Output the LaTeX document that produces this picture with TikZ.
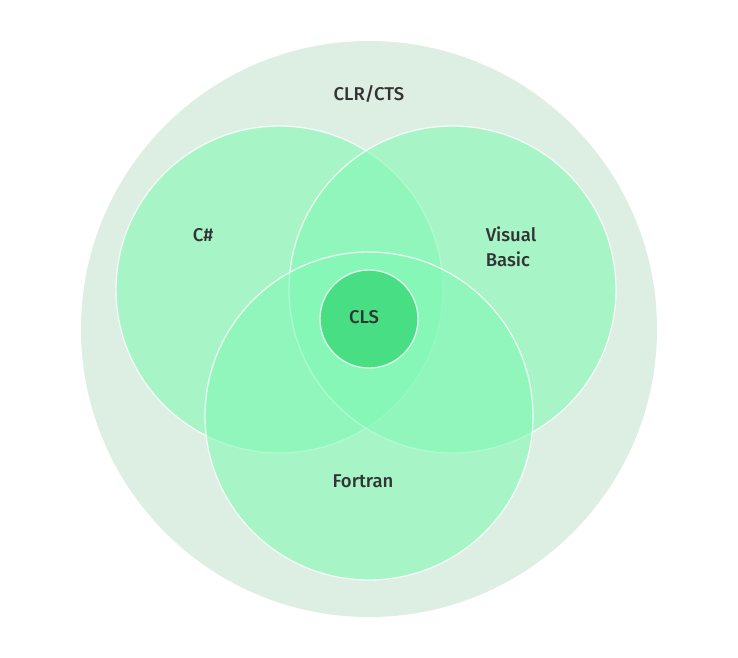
\documentclass[tikz,border=0pt]{standalone}
\usepackage{fontspec}
\setmainfont{Fira Sans}[BoldFont={Fira Sans Medium}]
\usepackage{tikz}

\definecolor{outerbg}{HTML}{DDEEE2}
\definecolor{langfill}{HTML}{80F9B4}
\definecolor{clsfill}{HTML}{47DE84}
\definecolor{labeltext}{HTML}{333333}

\tikzset{
  lang/.style={fill=langfill,fill opacity=0.58,draw=white,draw opacity=0.8,line width=1.3pt},
  lbl/.style={text=labeltext,font=\fontsize{18.5}{25}\selectfont\bfseries,align=left}
}

\begin{document}
\begin{tikzpicture}[x=1pt,y=-1pt]
  \useasboundingbox (0,0) rectangle (738,657);

  % runtime
  \fill[outerbg] (369,329) circle (288);

  % languages
  \path[lang] (279.5,289.5) circle (163.5);
  \path[lang] (452.5,289.5) circle (163.5);
  \path[lang] (369,416) circle (164);

  % common subset
  \draw[fill=clsfill,draw=white,draw opacity=0.8,line width=1.3pt] (369,319) circle (49);

  \node[lbl] (clr) at (369,94) {CLR/CTS};
  \node[lbl] (csharp) at (203,235) {C\#};
  \node[lbl] (vb) at (511,247) {Visual\\Basic};
  \node[lbl] (fortran) at (363,481) {Fortran};
  \node[lbl] (cls) at (364,317) {CLS};
\end{tikzpicture}
\end{document}
